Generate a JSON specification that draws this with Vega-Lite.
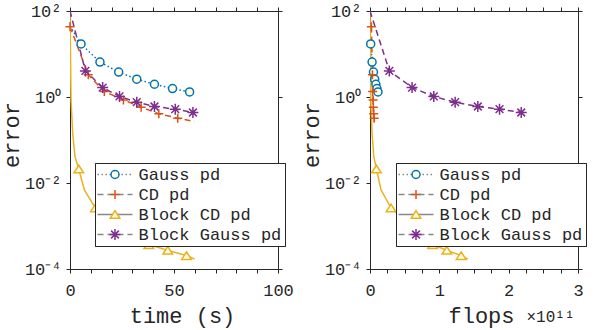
{
  "$schema": "https://vega.github.io/schema/vega-lite/v6.json",
  "background": "white",
  "padding": {"left": 0, "top": 2, "right": 5, "bottom": 3},
  "config": {
    "view": {"stroke": null},
    "font": "Liberation Mono",
    "axis": {
      "grid": false, "domainColor": "#262626", "tickColor": "#262626", "labelColor": "#262626", "titleColor": "#262626",
      "labelFont": "Liberation Mono", "labelFontSize": 17, "titleFont": "Liberation Mono", "titleFontSize": 22, "titleFontWeight": "normal",
      "tickSize": 4, "domainWidth": 1, "tickWidth": 1, "labelOverlap": false, "labelFlush": false, "labelBound": false
    }
  },
  "datasets": {
    "lines": [
      {"panel": "time", "series": "Gauss pd", "x": 0, "y": 45},
      {"panel": "time", "series": "Gauss pd", "x": 5.3, "y": 17.1},
      {"panel": "time", "series": "Gauss pd", "x": 14.4, "y": 6.5},
      {"panel": "time", "series": "Gauss pd", "x": 23.4, "y": 3.8},
      {"panel": "time", "series": "Gauss pd", "x": 32.1, "y": 2.6},
      {"panel": "time", "series": "Gauss pd", "x": 40.6, "y": 1.98},
      {"panel": "time", "series": "Gauss pd", "x": 49.3, "y": 1.57},
      {"panel": "time", "series": "Gauss pd", "x": 57.5, "y": 1.31},
      {"panel": "time", "series": "CD pd", "x": 0, "y": 43.3},
      {"panel": "time", "series": "CD pd", "x": 8.8, "y": 3.27},
      {"panel": "time", "series": "CD pd", "x": 16.5, "y": 1.34},
      {"panel": "time", "series": "CD pd", "x": 25.7, "y": 0.857},
      {"panel": "time", "series": "CD pd", "x": 34.2, "y": 0.58},
      {"panel": "time", "series": "CD pd", "x": 42.7, "y": 0.406},
      {"panel": "time", "series": "CD pd", "x": 51.8, "y": 0.322},
      {"panel": "time", "series": "CD pd", "x": 59.9, "y": 0.269},
      {"panel": "time", "series": "Block CD pd", "x": 0, "y": 100},
      {"panel": "time", "series": "Block CD pd", "x": 0.5, "y": 0.85},
      {"panel": "time", "series": "Block CD pd", "x": 1.3, "y": 0.144},
      {"panel": "time", "series": "Block CD pd", "x": 2.4, "y": 0.041},
      {"panel": "time", "series": "Block CD pd", "x": 4.2, "y": 0.0211},
      {"panel": "time", "series": "Block CD pd", "x": 6.9, "y": 0.0069},
      {"panel": "time", "series": "Block CD pd", "x": 12.2, "y": 0.00262},
      {"panel": "time", "series": "Block CD pd", "x": 37.9, "y": 0.000369},
      {"panel": "time", "series": "Block CD pd", "x": 47.0, "y": 0.000272},
      {"panel": "time", "series": "Block CD pd", "x": 56.0, "y": 0.000205},
      {"panel": "time", "series": "Block CD pd", "x": 59.9, "y": 0.000171},
      {"panel": "time", "series": "Block Gauss pd", "x": 0, "y": 100},
      {"panel": "time", "series": "Block Gauss pd", "x": 7.4, "y": 4.05},
      {"panel": "time", "series": "Block Gauss pd", "x": 15.7, "y": 1.66},
      {"panel": "time", "series": "Block Gauss pd", "x": 23.8, "y": 1.03},
      {"panel": "time", "series": "Block Gauss pd", "x": 32.1, "y": 0.757},
      {"panel": "time", "series": "Block Gauss pd", "x": 40.6, "y": 0.601},
      {"panel": "time", "series": "Block Gauss pd", "x": 50.6, "y": 0.521},
      {"panel": "time", "series": "Block Gauss pd", "x": 59.1, "y": 0.436},
      {"panel": "flops", "series": "Gauss pd", "x": 0, "y": 45},
      {"panel": "flops", "series": "Gauss pd", "x": 0.01, "y": 17.1},
      {"panel": "flops", "series": "Gauss pd", "x": 0.03, "y": 6.5},
      {"panel": "flops", "series": "Gauss pd", "x": 0.05, "y": 3.8},
      {"panel": "flops", "series": "Gauss pd", "x": 0.068, "y": 2.6},
      {"panel": "flops", "series": "Gauss pd", "x": 0.085, "y": 1.98},
      {"panel": "flops", "series": "Gauss pd", "x": 0.1, "y": 1.57},
      {"panel": "flops", "series": "Gauss pd", "x": 0.115, "y": 1.31},
      {"panel": "flops", "series": "CD pd", "x": 0.02, "y": 43.3},
      {"panel": "flops", "series": "CD pd", "x": 0.035, "y": 3.27},
      {"panel": "flops", "series": "CD pd", "x": 0.038, "y": 1.34},
      {"panel": "flops", "series": "CD pd", "x": 0.045, "y": 0.857},
      {"panel": "flops", "series": "CD pd", "x": 0.048, "y": 0.58},
      {"panel": "flops", "series": "CD pd", "x": 0.053, "y": 0.406},
      {"panel": "flops", "series": "CD pd", "x": 0.06, "y": 0.322},
      {"panel": "flops", "series": "CD pd", "x": 0.065, "y": 0.269},
      {"panel": "flops", "series": "Block CD pd", "x": 0, "y": 100},
      {"panel": "flops", "series": "Block CD pd", "x": 0.011, "y": 0.85},
      {"panel": "flops", "series": "Block CD pd", "x": 0.03, "y": 0.144},
      {"panel": "flops", "series": "Block CD pd", "x": 0.055, "y": 0.041},
      {"panel": "flops", "series": "Block CD pd", "x": 0.093, "y": 0.0211},
      {"panel": "flops", "series": "Block CD pd", "x": 0.159, "y": 0.0069},
      {"panel": "flops", "series": "Block CD pd", "x": 0.303, "y": 0.00262},
      {"panel": "flops", "series": "Block CD pd", "x": 0.904, "y": 0.000369},
      {"panel": "flops", "series": "Block CD pd", "x": 1.108, "y": 0.000272},
      {"panel": "flops", "series": "Block CD pd", "x": 1.315, "y": 0.000205},
      {"panel": "flops", "series": "Block CD pd", "x": 1.41, "y": 0.000171},
      {"panel": "flops", "series": "Block Gauss pd", "x": 0, "y": 100},
      {"panel": "flops", "series": "Block Gauss pd", "x": 0.279, "y": 4.05},
      {"panel": "flops", "series": "Block Gauss pd", "x": 0.607, "y": 1.66},
      {"panel": "flops", "series": "Block Gauss pd", "x": 0.92, "y": 1.03},
      {"panel": "flops", "series": "Block Gauss pd", "x": 1.228, "y": 0.757},
      {"panel": "flops", "series": "Block Gauss pd", "x": 1.555, "y": 0.601},
      {"panel": "flops", "series": "Block Gauss pd", "x": 1.868, "y": 0.521},
      {"panel": "flops", "series": "Block Gauss pd", "x": 2.181, "y": 0.436}
    ],
    "markers": [
      {"panel": "time", "series": "Gauss pd", "x": 5.3, "y": 17.1},
      {"panel": "time", "series": "Gauss pd", "x": 14.4, "y": 6.5},
      {"panel": "time", "series": "Gauss pd", "x": 23.4, "y": 3.8},
      {"panel": "time", "series": "Gauss pd", "x": 32.1, "y": 2.6},
      {"panel": "time", "series": "Gauss pd", "x": 40.6, "y": 1.98},
      {"panel": "time", "series": "Gauss pd", "x": 49.3, "y": 1.57},
      {"panel": "time", "series": "Gauss pd", "x": 57.5, "y": 1.31},
      {"panel": "time", "series": "CD pd", "x": 0, "y": 43.3},
      {"panel": "time", "series": "CD pd", "x": 8.8, "y": 3.27},
      {"panel": "time", "series": "CD pd", "x": 16.5, "y": 1.34},
      {"panel": "time", "series": "CD pd", "x": 25.7, "y": 0.857},
      {"panel": "time", "series": "CD pd", "x": 34.2, "y": 0.58},
      {"panel": "time", "series": "CD pd", "x": 42.7, "y": 0.406},
      {"panel": "time", "series": "CD pd", "x": 51.8, "y": 0.322},
      {"panel": "time", "series": "Block CD pd", "x": 4.2, "y": 0.0211},
      {"panel": "time", "series": "Block CD pd", "x": 12.2, "y": 0.00262},
      {"panel": "time", "series": "Block CD pd", "x": 37.9, "y": 0.000369},
      {"panel": "time", "series": "Block CD pd", "x": 47.0, "y": 0.000272},
      {"panel": "time", "series": "Block CD pd", "x": 56.0, "y": 0.000205},
      {"panel": "time", "series": "Block Gauss pd", "x": 7.4, "y": 4.05},
      {"panel": "time", "series": "Block Gauss pd", "x": 15.7, "y": 1.66},
      {"panel": "time", "series": "Block Gauss pd", "x": 23.8, "y": 1.03},
      {"panel": "time", "series": "Block Gauss pd", "x": 32.1, "y": 0.757},
      {"panel": "time", "series": "Block Gauss pd", "x": 40.6, "y": 0.601},
      {"panel": "time", "series": "Block Gauss pd", "x": 50.6, "y": 0.521},
      {"panel": "time", "series": "Block Gauss pd", "x": 59.1, "y": 0.436},
      {"panel": "flops", "series": "Gauss pd", "x": 0.01, "y": 17.1},
      {"panel": "flops", "series": "Gauss pd", "x": 0.03, "y": 6.5},
      {"panel": "flops", "series": "Gauss pd", "x": 0.05, "y": 3.8},
      {"panel": "flops", "series": "Gauss pd", "x": 0.068, "y": 2.6},
      {"panel": "flops", "series": "Gauss pd", "x": 0.085, "y": 1.98},
      {"panel": "flops", "series": "Gauss pd", "x": 0.1, "y": 1.57},
      {"panel": "flops", "series": "Gauss pd", "x": 0.115, "y": 1.31},
      {"panel": "flops", "series": "CD pd", "x": 0.02, "y": 43.3},
      {"panel": "flops", "series": "CD pd", "x": 0.035, "y": 3.27},
      {"panel": "flops", "series": "CD pd", "x": 0.038, "y": 1.34},
      {"panel": "flops", "series": "CD pd", "x": 0.045, "y": 0.857},
      {"panel": "flops", "series": "CD pd", "x": 0.048, "y": 0.58},
      {"panel": "flops", "series": "CD pd", "x": 0.053, "y": 0.406},
      {"panel": "flops", "series": "CD pd", "x": 0.06, "y": 0.322},
      {"panel": "flops", "series": "Block CD pd", "x": 0.093, "y": 0.0211},
      {"panel": "flops", "series": "Block CD pd", "x": 0.303, "y": 0.00262},
      {"panel": "flops", "series": "Block CD pd", "x": 0.904, "y": 0.000369},
      {"panel": "flops", "series": "Block CD pd", "x": 1.108, "y": 0.000272},
      {"panel": "flops", "series": "Block CD pd", "x": 1.315, "y": 0.000205},
      {"panel": "flops", "series": "Block Gauss pd", "x": 0.279, "y": 4.05},
      {"panel": "flops", "series": "Block Gauss pd", "x": 0.607, "y": 1.66},
      {"panel": "flops", "series": "Block Gauss pd", "x": 0.92, "y": 1.03},
      {"panel": "flops", "series": "Block Gauss pd", "x": 1.228, "y": 0.757},
      {"panel": "flops", "series": "Block Gauss pd", "x": 1.555, "y": 0.601},
      {"panel": "flops", "series": "Block Gauss pd", "x": 1.868, "y": 0.521},
      {"panel": "flops", "series": "Block Gauss pd", "x": 2.181, "y": 0.436}
    ]
  },
  "spacing": 92,
  "bounds": "flush",
  "resolve": {
    "scale": {"color": "independent", "strokeDash": "independent", "shape": "independent", "stroke": "independent"},
    "legend": {"color": "independent", "strokeDash": "independent", "shape": "independent", "stroke": "independent"}
  },
  "hconcat": [
    {
      "width": 208,
      "height": 258,
      "resolve": {"axis": {"x": "independent", "y": "independent"}},
      "layer": [
        {
          "data": {"name": "lines"},
          "transform": [{"filter": "datum.panel === 'time'"}],
          "mark": {"type": "line", "strokeWidth": 1.5, "clip": true, "strokeCap": "butt"},
          "encoding": {
            "x": {"field": "x", "type": "quantitative", "scale": {"domain": [0, 100]},
              "axis": {"orient": "bottom", "values": [0, 10, 20, 30, 40, 50, 60, 70, 80, 90, 100], "labelExpr": "datum.value % 50 === 0 ? format(datum.value, 'd') : ''", "labelPadding": 9,
                "title": "time (s)", "titleX": 112, "titleY": 53, "titleAlign": "center", "titleBaseline": "alphabetic"}},
            "y": {"field": "y", "type": "quantitative", "scale": {"type": "log", "domain": [0.0001, 100]},
              "axis": {"orient": "left", "values": [0.0001, 0.01, 1, 100], "labelExpr": "datum.value > 10 ? '10²' : datum.value > 0.1 ? '10⁰' : datum.value > 0.001 ? '10⁻²' : '10⁻⁴'", "labelPadding": 5,
                "title": "error", "titleX": -52, "titleY": 123.5, "titleAlign": "center", "titleBaseline": "alphabetic"}},
            "color": {"field": "series", "type": "nominal", "sort": ["Gauss pd", "CD pd", "Block CD pd", "Block Gauss pd"],
              "scale": {"range": ["#0072BD", "#D95319", "#EDB120", "#7E2F8E"]},
              "legend": {"orient": "none", "legendX": 25, "legendY": 152, "title": null, "symbolType": "M-4.375,0L4.375,0", "symbolSize": 64, "symbolStrokeWidth": 1.5, "symbolOffset": 8.5, "labelOffset": 15, "padding": 3, "rowPadding": 2, "strokeColor": "#262626", "fillColor": "white", "labelFontSize": 17, "labelFont": "Liberation Mono", "labelColor": "#262626", "labelLimit": 400}},
            "strokeDash": {"field": "series", "type": "nominal", "sort": ["Gauss pd", "CD pd", "Block CD pd", "Block Gauss pd"],
              "scale": {"range": [[1.5, 2.5], [6, 4], [1, 0], [6, 4]]},
              "legend": {"orient": "none", "legendX": 25, "legendY": 152, "title": null, "symbolType": "M-4.375,0L4.375,0", "symbolSize": 64, "symbolStrokeWidth": 1.5, "symbolOffset": 8.5, "labelOffset": 15, "padding": 3, "rowPadding": 2, "strokeColor": "#262626", "fillColor": "white", "labelFontSize": 17, "labelFont": "Liberation Mono", "labelColor": "#262626", "labelLimit": 400}}
          }
        },
        {
          "data": {"name": "markers"},
          "transform": [{"filter": "datum.panel === 'time'"}],
          "mark": {"type": "point", "filled": false, "fill": "#FFFFE0", "fillOpacity": 1, "strokeWidth": 1.5, "size": 64, "opacity": 1},
          "encoding": {
            "x": {"field": "x", "type": "quantitative", "scale": {"domain": [0, 100]},
              "axis": {"orient": "top", "values": [0, 10, 20, 30, 40, 50, 60, 70, 80, 90, 100], "labels": false, "title": null}},
            "y": {"field": "y", "type": "quantitative", "scale": {"type": "log", "domain": [0.0001, 100]},
              "axis": {"orient": "right", "values": [0.0001, 0.01, 1, 100], "labels": false, "title": null}},
            "shape": {"field": "series", "type": "nominal",
              "scale": {"domain": ["Gauss pd", "CD pd", "Block CD pd", "Block Gauss pd"], "range": ["circle", "M-1.125,0L1.125,0M0,-1.125L0,1.125", "M0,-0.95L1.2,0.95L-1.2,0.95Z", "M-1.375,0L1.375,0M0,-1.375L0,1.375M-0.97,-0.97L0.97,0.97M-0.97,0.97L0.97,-0.97"]},
              "legend": {"orient": "none", "legendX": 25, "legendY": 152, "title": null, "symbolSize": 64, "symbolStrokeWidth": 1.5, "symbolOffset": 8.5, "labelOffset": 15, "padding": 3, "rowPadding": 2, "labelFontSize": 17, "labelFont": "Liberation Mono", "labelOpacity": 0, "symbolFillColor": "#FFFFE0", "labelLimit": 400}},
            "stroke": {"field": "series", "type": "nominal",
              "scale": {"domain": ["Gauss pd", "CD pd", "Block CD pd", "Block Gauss pd"], "range": ["#0072BD", "#D95319", "#EDB120", "#7E2F8E"]},
              "legend": {"orient": "none", "legendX": 25, "legendY": 152, "title": null, "symbolSize": 64, "symbolStrokeWidth": 1.5, "symbolOffset": 8.5, "labelOffset": 15, "padding": 3, "rowPadding": 2, "labelFontSize": 17, "labelFont": "Liberation Mono", "labelOpacity": 0, "symbolFillColor": "#FFFFE0", "labelLimit": 400}}
          }
        }
      ]
    },
    {
      "width": 208,
      "height": 258,
      "resolve": {"axis": {"x": "independent", "y": "independent"}},
      "layer": [
        {
          "data": {"name": "lines"},
          "transform": [{"filter": "datum.panel === 'flops'"}],
          "mark": {"type": "line", "strokeWidth": 1.5, "clip": true, "strokeCap": "butt"},
          "encoding": {
            "x": {"field": "x", "type": "quantitative", "scale": {"domain": [0, 3]},
              "axis": {"orient": "bottom", "values": [0, 0.25, 0.5, 0.75, 1, 1.25, 1.5, 1.75, 2, 2.25, 2.5, 2.75, 3], "labelExpr": "datum.value % 1 === 0 ? format(datum.value, 'd') : ''", "labelPadding": 9,
                "title": "flops", "titleX": 111, "titleY": 53, "titleAlign": "center", "titleBaseline": "alphabetic"}},
            "y": {"field": "y", "type": "quantitative", "scale": {"type": "log", "domain": [0.0001, 100]},
              "axis": {"orient": "left", "values": [0.0001, 0.01, 1, 100], "labelExpr": "datum.value > 10 ? '10²' : datum.value > 0.1 ? '10⁰' : datum.value > 0.001 ? '10⁻²' : '10⁻⁴'", "labelPadding": 5,
                "title": "error", "titleX": -52, "titleY": 123.5, "titleAlign": "center", "titleBaseline": "alphabetic"}},
            "color": {"field": "series", "type": "nominal", "sort": ["Gauss pd", "CD pd", "Block CD pd", "Block Gauss pd"],
              "scale": {"range": ["#0072BD", "#D95319", "#EDB120", "#7E2F8E"]},
              "legend": {"orient": "none", "legendX": 26, "legendY": 152, "title": null, "symbolType": "M-4.375,0L4.375,0", "symbolSize": 64, "symbolStrokeWidth": 1.5, "symbolOffset": 8.5, "labelOffset": 15, "padding": 3, "rowPadding": 2, "strokeColor": "#262626", "fillColor": "white", "labelFontSize": 17, "labelFont": "Liberation Mono", "labelColor": "#262626", "labelLimit": 400}},
            "strokeDash": {"field": "series", "type": "nominal", "sort": ["Gauss pd", "CD pd", "Block CD pd", "Block Gauss pd"],
              "scale": {"range": [[1.5, 2.5], [6, 4], [1, 0], [6, 4]]},
              "legend": {"orient": "none", "legendX": 26, "legendY": 152, "title": null, "symbolType": "M-4.375,0L4.375,0", "symbolSize": 64, "symbolStrokeWidth": 1.5, "symbolOffset": 8.5, "labelOffset": 15, "padding": 3, "rowPadding": 2, "strokeColor": "#262626", "fillColor": "white", "labelFontSize": 17, "labelFont": "Liberation Mono", "labelColor": "#262626", "labelLimit": 400}}
          }
        },
        {
          "data": {"name": "markers"},
          "transform": [{"filter": "datum.panel === 'flops'"}],
          "mark": {"type": "point", "filled": false, "fill": "#FFFFE0", "fillOpacity": 1, "strokeWidth": 1.5, "size": 64, "opacity": 1},
          "encoding": {
            "x": {"field": "x", "type": "quantitative", "scale": {"domain": [0, 3]},
              "axis": {"orient": "top", "values": [0, 0.25, 0.5, 0.75, 1, 1.25, 1.5, 1.75, 2, 2.25, 2.5, 2.75, 3], "labels": false,
                "title": "×10¹¹", "titleFontSize": 16, "titleX": 204, "titleY": 310.7, "titleAlign": "right", "titleBaseline": "alphabetic", "titleAngle": 0}},
            "y": {"field": "y", "type": "quantitative", "scale": {"type": "log", "domain": [0.0001, 100]},
              "axis": {"orient": "right", "values": [0.0001, 0.01, 1, 100], "labels": false, "title": null}},
            "shape": {"field": "series", "type": "nominal",
              "scale": {"domain": ["Gauss pd", "CD pd", "Block CD pd", "Block Gauss pd"], "range": ["circle", "M-1.125,0L1.125,0M0,-1.125L0,1.125", "M0,-0.95L1.2,0.95L-1.2,0.95Z", "M-1.375,0L1.375,0M0,-1.375L0,1.375M-0.97,-0.97L0.97,0.97M-0.97,0.97L0.97,-0.97"]},
              "legend": {"orient": "none", "legendX": 26, "legendY": 152, "title": null, "symbolSize": 64, "symbolStrokeWidth": 1.5, "symbolOffset": 8.5, "labelOffset": 15, "padding": 3, "rowPadding": 2, "labelFontSize": 17, "labelFont": "Liberation Mono", "labelOpacity": 0, "symbolFillColor": "#FFFFE0", "labelLimit": 400}},
            "stroke": {"field": "series", "type": "nominal",
              "scale": {"domain": ["Gauss pd", "CD pd", "Block CD pd", "Block Gauss pd"], "range": ["#0072BD", "#D95319", "#EDB120", "#7E2F8E"]},
              "legend": {"orient": "none", "legendX": 26, "legendY": 152, "title": null, "symbolSize": 64, "symbolStrokeWidth": 1.5, "symbolOffset": 8.5, "labelOffset": 15, "padding": 3, "rowPadding": 2, "labelFontSize": 17, "labelFont": "Liberation Mono", "labelOpacity": 0, "symbolFillColor": "#FFFFE0", "labelLimit": 400}}
          }
        }
      ]
    }
  ]
}
